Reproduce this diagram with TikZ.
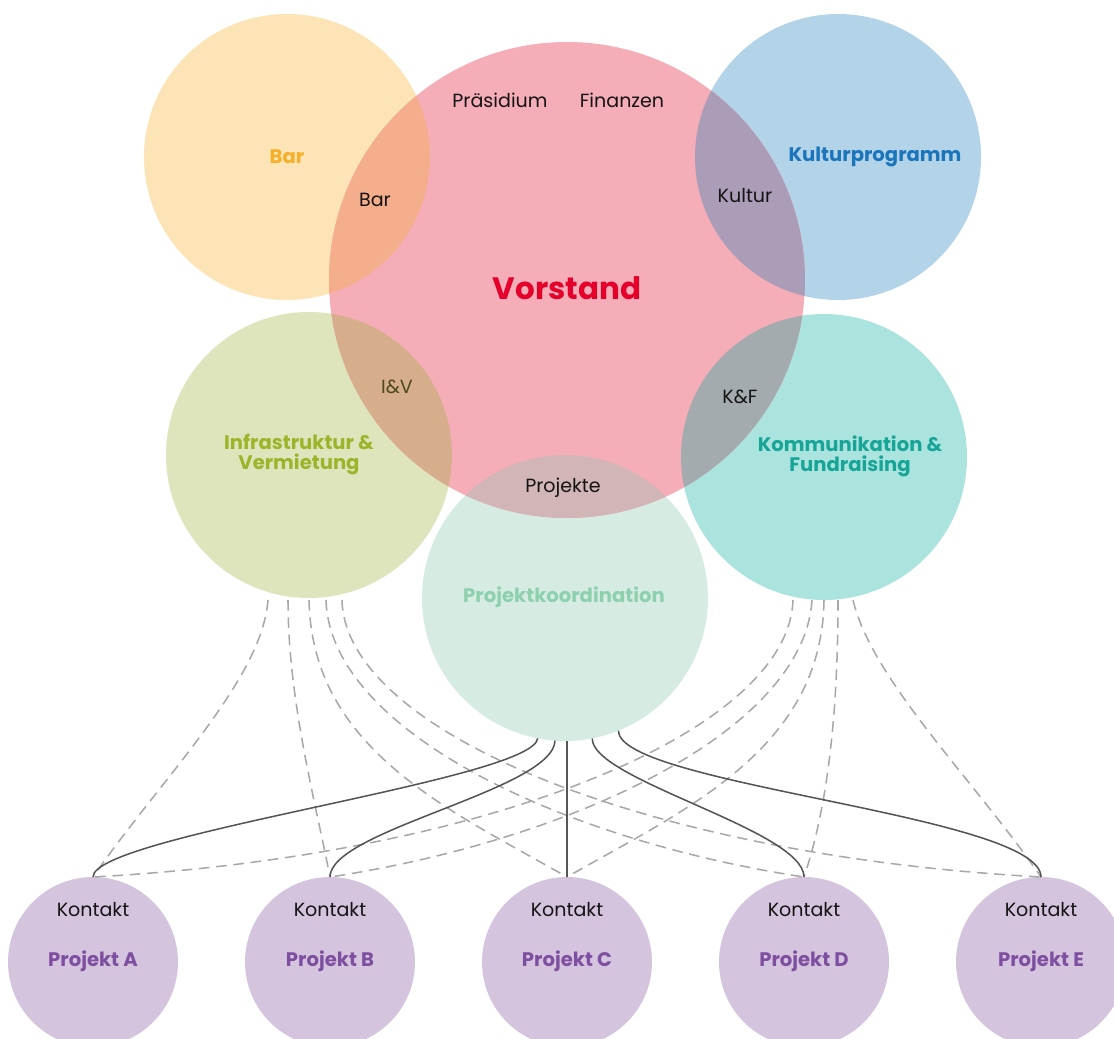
\documentclass[tikz,border=0pt]{standalone}
\usepackage{fontspec}
\setmainfont{Poppins}
\definecolor{barFill}{HTML}{FCE4B6}
\definecolor{barTxt}{HTML}{F5B027}
\definecolor{vorFill}{HTML}{F5ADB8}
\definecolor{vorTxt}{HTML}{E4002B}
\definecolor{kulFill}{HTML}{B3D3E8}
\definecolor{kulTxt}{HTML}{1B75BB}
\definecolor{infFill}{HTML}{DEE5BC}
\definecolor{infTxt}{HTML}{9BB52A}
\definecolor{komFill}{HTML}{ABE3DE}
\definecolor{komTxt}{HTML}{16A596}
\definecolor{pkFill}{HTML}{D6ECE3}
\definecolor{pkTxt}{HTML}{8DD0AE}
\definecolor{prFill}{HTML}{D5C4DE}
\definecolor{prTxt}{HTML}{7E4FA0}
\definecolor{ovBar}{HTML}{F5AE8B}
\definecolor{ovKul}{HTML}{AB9CB8}
\definecolor{ovInf}{HTML}{D7AE8B}
\definecolor{ovKom}{HTML}{A4ABAE}
\definecolor{ovPk}{HTML}{D2B5B6}
\definecolor{txt}{HTML}{141414}
\definecolor{ivTxt}{HTML}{4D4A1E}
\definecolor{dashGray}{HTML}{A8A8A8}
\definecolor{lineGray}{HTML}{555555}
\tikzset{
  disc/.style={circle, inner sep=0pt, outer sep=0pt, draw=none, minimum size=#1},
  lbl/.style={font=\fontsize{14.3}{16}\selectfont, text=txt, inner sep=0pt},
  ttl/.style={font=\bfseries\fontsize{14.7}{15}\selectfont, align=center, inner sep=0pt},
  dashline/.style={draw=dashGray, line width=1.15pt, dash pattern=on 8pt off 5pt},
  solidline/.style={draw=lineGray, line width=1.15pt},
}
\begin{document}
\begin{tikzpicture}[x=0.75pt,y=-0.75pt]
\useasboundingbox (0,0) rectangle (1114,1039);
% big circles
\node[disc=214.5pt, fill=barFill] (bar) at (287,157) {};
\node[disc=214.5pt, fill=kulFill] (kul) at (838,157) {};
\node[disc=214.5pt, fill=infFill] (inf) at (309,455) {};
\node[disc=214.5pt, fill=komFill] (kom) at (824,457) {};
\node[disc=214.5pt, fill=pkFill] (pk) at (565,598) {};
\node[disc=357pt, fill=vorFill] (vor) at (567,280) {};
% overlaps
\begin{scope}
  \clip (567,280) circle[radius=238];
  \fill[ovBar] (287,157) circle[radius=143];
  \fill[ovKul] (838,157) circle[radius=143];
  \fill[ovInf] (309,455) circle[radius=143];
  \fill[ovKom] (824,457) circle[radius=143];
  \fill[ovPk] (565,598) circle[radius=143];
\end{scope}
% project circles
\node[disc=127.5pt, fill=prFill] (pa) at (93,962) {};
\node[disc=127.5pt, fill=prFill] (pb) at (330,962) {};
\node[disc=127.5pt, fill=prFill] (pc) at (567,962) {};
\node[disc=127.5pt, fill=prFill] (pd) at (804,962) {};
\node[disc=127.5pt, fill=prFill] (pe) at (1041,962) {};
% start points of dashed connectors
\coordinate (iv1) at (268,600);
\coordinate (iv2) at (288,600);
\coordinate (iv3) at (309,600);
\coordinate (iv4) at (326,600);
\coordinate (iv5) at (342,600);
\coordinate (kf1) at (793,600);
\coordinate (kf2) at (812,600);
\coordinate (kf3) at (824,600);
\coordinate (kf4) at (838,600);
\coordinate (kf5) at (853,600);
% dashed connectors
\draw[dashline] (iv1) .. controls (262,680) and (160,780) .. (pa.north);
\draw[dashline] (iv2) .. controls (288,700) and (315,800) .. (pb.north);
\draw[dashline] (iv3) .. controls (312,750) and (450,810) .. (pc.north);
\draw[dashline] (iv4) .. controls (330,730) and (560,840) .. (pd.north);
\draw[dashline] (iv5) .. controls (345,730) and (640,855) .. (pe.north);
\draw[dashline] (kf1) .. controls (789,730) and (494,855) .. (pa.north);
\draw[dashline] (kf2) .. controls (804,730) and (574,840) .. (pb.north);
\draw[dashline] (kf3) .. controls (822,750) and (684,810) .. (pc.north);
\draw[dashline] (kf4) .. controls (838,700) and (830,800) .. (pd.north);
\draw[dashline] (kf5) .. controls (872,680) and (974,780) .. (pe.north);
% solid connectors
\draw[solidline] (pk.-101.9) .. controls (533,780) and (93,835) .. (pa.north);
\draw[solidline] (pk.-94.4) .. controls (553,790) and (330,830) .. (pb.north);
\draw[solidline] (pk.south -| pc.north) -- (pc.north);
\draw[solidline] (pk.-79.2) .. controls (591,780) and (804,830) .. (pd.north);
\draw[solidline] (pk.-68.7) .. controls (617,785) and (1041,815) .. (pe.north);
% texts
\node[lbl] (praes) at (500,100) {Präsidium};
\node[lbl] (fin) at (622,100) {Finanzen};
\node[ttl, text=barTxt] (barT) at (287,157) {Bar};
\node[lbl] (barS) at (375,200) {Bar};
\node[ttl, text=kulTxt] (kulT) at (875,157) {Kulturprogramm};
\node[lbl] (kulS) at (745,196) {Kultur};
\node[font=\bfseries\fontsize{23.2}{26}\selectfont, text=vorTxt, inner sep=0pt] (vorT) at (567,288) {Vorstand};
\node[lbl, text=ivTxt] (ivS) at (397,387) {I\&V};
\node[lbl] (kfS) at (740,397) {K\&F};
\node[ttl, text=infTxt] (infT) at (299,455) {Infrastruktur \&\\Vermietung};
\node[ttl, text=komTxt] (komT) at (850,456) {Kommunikation \&\\Fundraising};
\node[lbl] (projS) at (563,488) {Projekte};
\node[ttl, text=pkTxt] (pkT) at (564,597) {Projektkoordination};
\foreach \n/\x/\l in {a/93/A, b/330/B, c/567/C, d/804/D, e/1041/E}{
  \node[lbl] (k\n) at (\x,910) {Kontakt};
  \node[ttl, text=prTxt] (t\n) at (\x,961) {Projekt \l};
}
\end{tikzpicture}
\end{document}
